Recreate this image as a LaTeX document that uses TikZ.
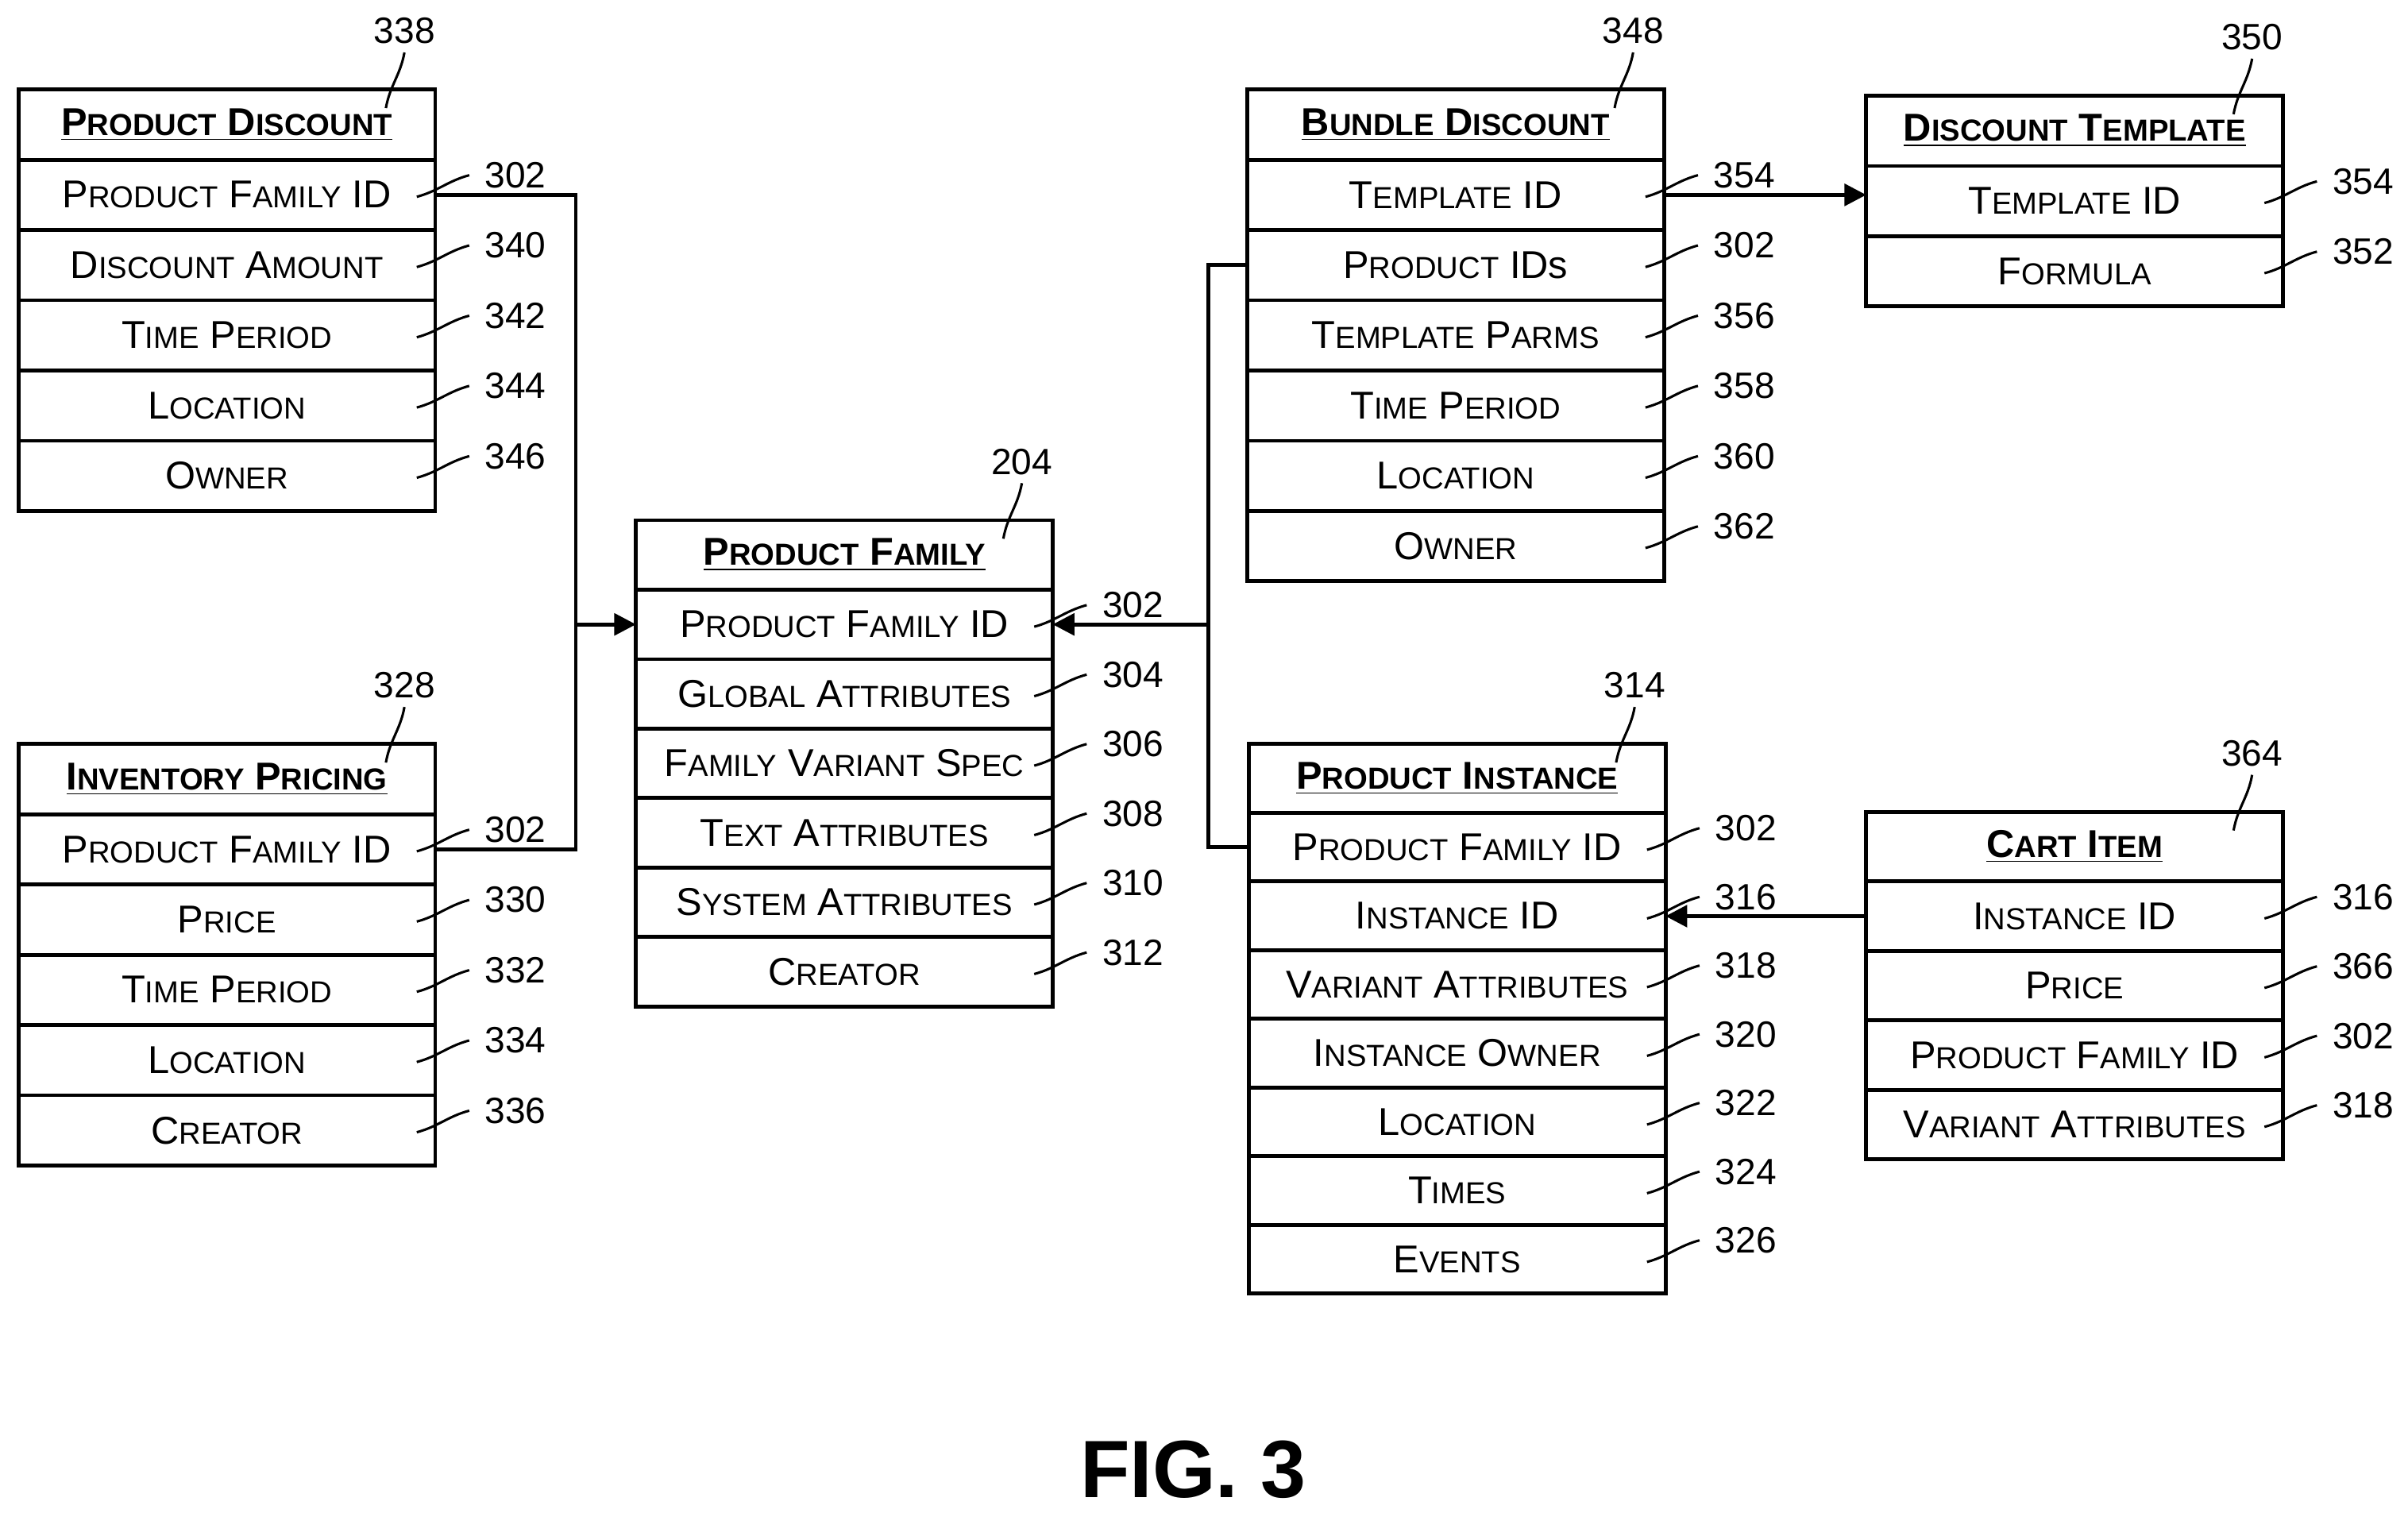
\documentclass[tikz,border=0pt]{standalone}
\usepackage{fontspec}
\setmainfont{Liberation Sans}
\usetikzlibrary{positioning,calc,arrows.meta}
\newcommand\w[1]{\wA#1\relax}
\def\wA#1#2\relax{#1{\fontsize{11.2}{12}\selectfont\MakeUppercase{#2}}}
\newcommand\entity[6]{% name, x, y, row height, title, rows
  \node[ttl, minimum height=#4*0.02cm] (#1-0) at (#2,#3) {\underline{#5}};
  \foreach \r [count=\i, remember=\i as \j (initially 0)] in {#6}
    \node[row, minimum height=#4*0.02cm, below=0pt of #1-\j] (#1-\i) {\r};
}
\newcommand\refs[2]{% name, numbers
  \foreach \n [count=\i] in {#2}{
    \draw[lead] ($(#1-\i.north east)+(-12,24)$) to[out=15,in=195] ($(#1-\i.north east)+(22,10)$);
    \node[num] at ($(#1-\i.north east)+(52,10)$) {\n};
  }
}
\newcommand\tref[2]{% name, number
  \draw[lead] ($(#1-0.north east)+(-32,12)$) to[out=80,in=-100] ($(#1-0.north east)+(-20,-24)$);
  \node[num] at ($(#1-0.north east)+(-20,-38)$) {#2};
}
\begin{document}
\begin{tikzpicture}[x=0.02cm, y=-0.02cm,
  row/.style={draw, line width=1.4pt, outer sep=0pt, anchor=north, minimum width=270*0.02cm,
    inner sep=0pt, font=\fontsize{14.3}{16}\selectfont},
  ttl/.style={row, anchor=north west, font=\fontsize{14.3}{16}\selectfont\bfseries},
  num/.style={font=\fontsize{13.5}{15}\selectfont},
  lead/.style={line width=0.9pt},
  link/.style={line width=1.4pt},
  arr/.style={link, -{Triangle[length=8pt,width=8pt]}},
]
\useasboundingbox (0,0) rectangle (1560,980);

\entity{pd}{12}{58}{45.5}{\w{Product} \w{Discount}}{\w{Product} \w{Family} ID, \w{Discount} \w{Amount}, \w{Time} \w{Period}, \w{Location}, \w{Owner}}
\tref{pd}{338}
\refs{pd}{302,340,342,344,346}

\entity{ip}{12}{482}{45.5}{\w{Inventory} \w{Pricing}}{\w{Product} \w{Family} ID, \w{Price}, \w{Time} \w{Period}, \w{Location}, \w{Creator}}
\tref{ip}{328}
\refs{ip}{302,330,332,334,336}

\entity{pf}{412}{337}{45}{\w{Product} \w{Family}}{\w{Product} \w{Family} ID, \w{Global} \w{Attributes}, \w{Family} \w{Variant} \w{Spec}, \w{Text} \w{Attributes}, \w{System} \w{Attributes}, \w{Creator}}
\tref{pf}{204}
\refs{pf}{302,304,306,308,310,312}

\entity{bd}{808}{58}{45.5}{\w{Bundle} \w{Discount}}{\w{Template} ID, \w{Product} IDs, \w{Template} \w{Parms}, \w{Time} \w{Period}, \w{Location}, \w{Owner}}
\tref{bd}{348}
\refs{bd}{354,302,356,358,360,362}

\entity{dt}{1209}{62}{45.5}{\w{Discount} \w{Template}}{\w{Template} ID, \w{Formula}}
\tref{dt}{350}
\refs{dt}{354,352}

\entity{pi}{809}{482}{44.5}{\w{Product} \w{Instance}}{\w{Product} \w{Family} ID, \w{Instance} ID, \w{Variant} \w{Attributes}, \w{Instance} \w{Owner}, \w{Location}, \w{Times}, \w{Events}}
\tref{pi}{314}
\refs{pi}{302,316,318,320,322,324,326}

\entity{ci}{1209}{526}{45}{\w{Cart} \w{Item}}{\w{Instance} ID, \w{Price}, \w{Product} \w{Family} ID, \w{Variant} \w{Attributes}}
\tref{ci}{364}
\refs{ci}{316,366,302,318}

% links
\coordinate (jl) at ($(pf-1.west)+(-39,0)$);
\coordinate (jr) at ($(pf-1.east)+(101,0)$);
\draw[link] (pd-1.east) -| (jl);
\draw[link] (ip-1.east) -| (jl);
\draw[arr] (jl) -- (pf-1.west);
\draw[link] (bd-2.west) -| (jr);
\draw[link] (pi-1.west) -| (jr);
\draw[arr] (jr) -- (pf-1.east);
\draw[arr] (bd-1.east) -- (bd-1.east -| dt-1.west);
\draw[arr] (ci-1.west) -- (ci-1.west -| pi-2.east);

\node[font=\fontsize{30}{32}\selectfont\bfseries] (fig) at (773,952) {FIG. 3};
\end{tikzpicture}
\end{document}
